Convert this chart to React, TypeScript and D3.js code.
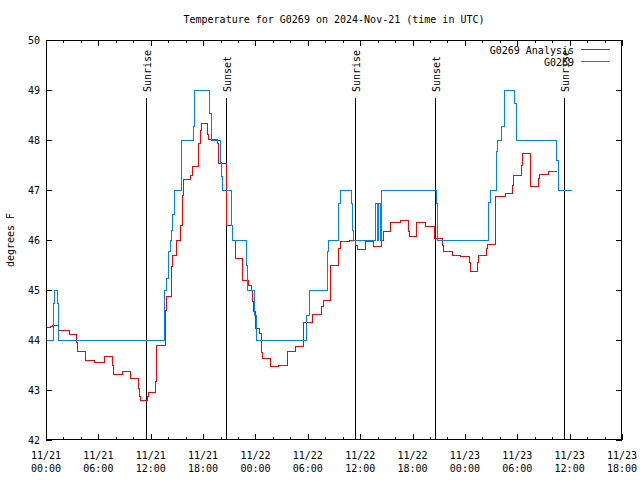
import React from "react";
import * as d3 from "d3";

// ---- data (hours after 2024-11-21 00:00 UTC) ----
const analysisHours = [
  0, 0.46, 0.72, 1.43, 2.67, 3.52, 3.63, 4.58, 5.61, 6.76, 7.64, 7.79, 8.71, 9.71, 10.58, 10.77, 10.85,
  11.61, 11.77, 12.52, 12.64, 12.7, 13.64, 13.72, 13.83, 14.4, 14.55, 14.9, 15.43, 15.66, 15.73, 16.58,
  16.76, 17.53, 17.65, 17.84, 18.53, 18.64, 19.63, 19.74, 19.82, 20.68, 20.71, 21.37, 21.66, 22.52,
  23.18, 23.57, 23.69, 23.83, 23.95, 24.06, 24.52, 24.64, 24.72, 24.83, 25.67, 26.62, 27.65, 28.61,
  29.56, 30.56, 31.59, 31.78, 32.62, 33.57, 33.77, 34.72, 35.52, 35.72, 36.6, 37.55, 38.44, 38.62,
  39.53, 40.62, 41.56, 41.65, 42.51, 43.46, 44.52, 45.38, 45.49, 46.58, 47.55, 48.58, 48.66, 49.42,
  49.5, 50.5, 50.59, 51.45, 51.56, 52.68, 53.48, 53.57, 54.51, 54.6, 55.46, 55.57, 56.41, 56.55,
  57.56, 58.52,
];
const analysisTemps = [
  44.25, 44.28, 44.3, 44.2, 44.12, 43.95, 43.78, 43.59, 43.56, 43.67, 43.5, 43.31, 43.38, 43.24, 43.03,
  42.87, 42.8, 42.87, 42.95, 43.18, 43.65, 43.9, 44.3, 44.6, 44.87, 45.47, 45.7, 46.0, 46.29, 46.9,
  47.21, 47.3, 47.48, 47.93, 48.2, 48.33, 48.12, 48.02, 47.93, 47.67, 47.53, 47.0, 46.3, 46.0, 45.63,
  45.2, 45.1, 45.0, 44.77, 44.57, 44.37, 44.23, 44.13, 43.93, 43.75, 43.63, 43.48, 43.5, 43.77, 43.88,
  44.35, 44.51, 44.67, 44.8, 45.5, 45.83, 45.97, 46.0, 45.9, 45.81, 45.97, 45.87, 46.0, 46.17, 46.35,
  46.39, 46.17, 46.08, 46.35, 46.27, 46.03, 45.9, 45.77, 45.7, 45.67, 45.55, 45.37, 45.55, 45.7, 45.83,
  45.92, 46.67, 46.88, 46.93, 47.1, 47.3, 47.5, 47.73, 47.4, 47.07, 47.23, 47.31, 47.37, 47.37,
];
const obsHours = [
  0, 0.84, 0.95, 1.29, 1.41, 13.56, 13.83, 14.01, 14.27, 14.38, 14.53, 14.68, 14.78, 15.47, 16.86,
  16.97, 18.72, 18.91, 19.02, 20.03, 20.11, 20.2, 21.2, 21.42, 22.95, 23.1, 23.9, 24.13, 29.9, 30.2,
  32.2, 32.4, 33.55, 33.75, 35.0, 35.1, 35.25, 37.81, 37.96, 38.12, 38.3, 38.44, 44.72, 44.9, 50.68,
  50.9, 51.59, 51.75, 52.2, 52.5, 53.63, 53.93, 58.52, 58.7, 60.24,
];
const obsTemps = [
  44.0, 44.73, 45.0, 44.73, 44.0, 45.0, 45.23, 45.77, 46.0, 46.19, 46.51, 46.89, 47.0, 48.0, 48.27,
  49.0, 48.53, 48.15, 48.0, 47.55, 47.27, 47.0, 46.3, 46.0, 45.5, 45.0, 44.5, 44.0, 44.5, 45.0,
  45.77, 46.0, 46.73, 47.0, 46.73, 46.2, 46.0, 46.73, 46.0, 46.73, 46.0, 47.0, 46.73, 46.0, 46.75,
  47.0, 47.77, 48.0, 48.27, 49.0, 48.73, 48.0, 47.6, 47.0, 47.0,
];
const sunriseHours = [11.49, 35.44, 59.4];
const sunsetHours = [20.66, 44.6];
const yTicks = [42, 43, 44, 45, 46, 47, 48, 49, 50];
const seriesNames = ["G0269 Analysis", "G0269"];
const seriesColors = ["#ff0000", "#0080ff"];
const title = "Temperature for G0269 on 2024-Nov-21 (time in UTC)";
const yLabel = "degrees F";

const W = 640, H = 480;
const L = 46, R = 622, T = 40, B = 440;
const FONT = "'DejaVu Sans Mono', monospace";
const START = Date.UTC(2024, 10, 21);
const hToDate = (h: number) => new Date(START + h * 3600e3);

export default function App() {
  const x = d3.scaleUtc().domain([hToDate(0), hToDate(66)]).range([L, R]);
  const y = d3.scaleLinear().domain([42, 50]).range([B, T]);
  const majorX = d3.range(0, 67, 6).map(hToDate);
  const minorX = d3.range(0, 67, 2).filter((h) => h % 6 !== 0).map(hToDate);
  const fmtD = d3.utcFormat("%m/%d");
  const fmtH = d3.utcFormat("%H:%M");

  const line = d3
    .line<[number, number]>()
    .x((d) => x(hToDate(d[0])))
    .y((d) => y(d[1]))
    .curve(d3.curveStepAfter);
  const a = analysisHours.map((h, i) => [h, analysisTemps[i]] as [number, number]);
  const o = obsHours.map((h, i) => [h, obsTemps[i]] as [number, number]);

  const events = [
    ...sunriseHours.map((h) => ({ h, label: "Sunrise" })),
    ...sunsetHours.map((h) => ({ h, label: "Sunset" })),
  ];

  return (
    <div style={{ position: "fixed", left: 0, top: 0 }}>
      <svg width={W} height={H} style={{ display: "block", background: "#fff" }} fontFamily={FONT} fontSize={10}>
        <rect x={0} y={0} width={W} height={H} fill="#fff" />
        {/* ticks */}
        <g stroke="#000" strokeWidth={1} shapeRendering="crispEdges">
          {yTicks.map((v) => (
            <g key={"y" + v}>
              <line x1={L} x2={L + 6} y1={Math.round(y(v)) + 0.5} y2={Math.round(y(v)) + 0.5} />
              <line x1={R - 6} x2={R} y1={Math.round(y(v)) + 0.5} y2={Math.round(y(v)) + 0.5} />
            </g>
          ))}
          {majorX.map((d, i) => {
            const px = Math.round(x(d)) + 0.5;
            return (
              <g key={"mx" + i}>
                <line x1={px} x2={px} y1={B} y2={B - 6} />
                <line x1={px} x2={px} y1={T} y2={T + 6} />
              </g>
            );
          })}
          {minorX.map((d, i) => {
            const px = Math.round(x(d)) + 0.5;
            return (
              <g key={"nx" + i}>
                <line x1={px} x2={px} y1={B} y2={B - 3} />
                <line x1={px} x2={px} y1={T} y2={T + 3} />
              </g>
            );
          })}
        </g>
        {/* sunrise / sunset */}
        {events.map((e, i) => {
          const px = Math.round(x(hToDate(e.h))) + 0.5;
          return (
            <g key={"ev" + i}>
              <line x1={px} x2={px} y1={98} y2={B} stroke="#000" strokeWidth={1} shapeRendering="crispEdges" />
              <text transform={`translate(${px + 4},92) rotate(-90)`} textAnchor="start" fill="#000">
                {e.label}
              </text>
            </g>
          );
        })}
        {/* series */}
        <path d={line(a) || ""} fill="none" stroke={seriesColors[0]} strokeWidth={1} shapeRendering="crispEdges" />
        <path d={line(o) || ""} fill="none" stroke={seriesColors[1]} strokeWidth={1} shapeRendering="crispEdges" />
        {/* frame */}
        <rect x={L + 0.5} y={T + 0.5} width={R - L - 1} height={B - T - 1} fill="none" stroke="#000" shapeRendering="crispEdges" />
        {/* y labels */}
        {yTicks.map((v) => (
          <text key={"yl" + v} x={40} y={y(v)} dy="0.35em" textAnchor="end" fill="#000">
            {v}
          </text>
        ))}
        {/* x labels */}
        {majorX.map((d, i) => (
          <text key={"xl" + i} x={x(d)} textAnchor="middle" fill="#000">
            <tspan x={x(d)} y={459}>{fmtD(d)}</tspan>
            <tspan x={x(d)} y={472}>{fmtH(d)}</tspan>
          </text>
        ))}
        {/* title */}
        <text x={(L + R) / 2} y={23} textAnchor="middle" fill="#000">{title}</text>
        {/* y axis label */}
        <text transform={`translate(14,${(T + B) / 2}) rotate(-90)`} textAnchor="middle" fill="#000">{yLabel}</text>
        {/* legend */}
        {seriesNames.map((n, i) => (
          <g key={"lg" + i}>
            <text x={574} y={50 + i * 12} dy="0.35em" textAnchor="end" fill="#000">{n}</text>
            <line x1={581} x2={610} y1={49.5 + i * 12} y2={49.5 + i * 12} stroke={seriesColors[i]} strokeWidth={1} shapeRendering="crispEdges" />
          </g>
        ))}
      </svg>
    </div>
  );
}
